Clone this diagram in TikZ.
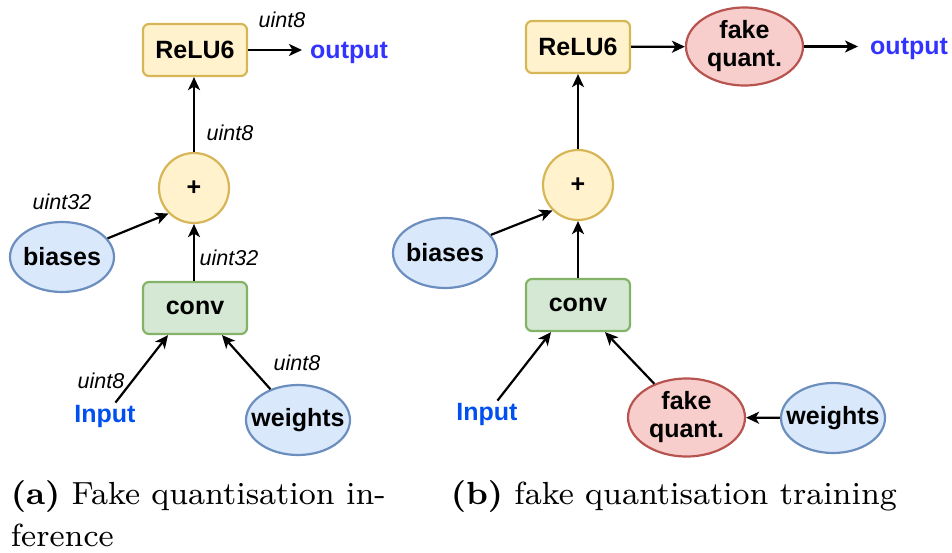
\documentclass[tikz,border=0pt]{standalone}
\usepackage{fontspec}
\setsansfont{Liberation Sans}
\usetikzlibrary{shapes.geometric,arrows.meta}

\definecolor{yelFill}{HTML}{FFF2CC}
\definecolor{yelLine}{HTML}{D6B656}
\definecolor{bluFill}{HTML}{DAE8FC}
\definecolor{bluLine}{HTML}{6C8EBF}
\definecolor{grnFill}{HTML}{D5E8D4}
\definecolor{grnLine}{HTML}{82B366}
\definecolor{redFill}{HTML}{F8CECC}
\definecolor{redLine}{HTML}{B85450}
\definecolor{inColor}{HTML}{0050EF}
\definecolor{outColor}{HTML}{3333FF}

\tikzset{
  x=1pt, y=-1pt,
  every node/.style={font=\sffamily\bfseries\fontsize{25}{28}\selectfont},
  opbox/.style={rectangle, rounded corners=6pt, line width=2.2pt,
    minimum width=104pt, minimum height=52pt, inner sep=0pt},
  relubox/.style={opbox, fill=yelFill, draw=yelLine},
  convbox/.style={opbox, fill=grnFill, draw=grnLine},
  addnode/.style={circle, fill=yelFill, draw=yelLine, line width=2.2pt,
    minimum size=70pt, inner sep=0pt},
  tensor/.style={ellipse, fill=bluFill, draw=bluLine, line width=2.2pt,
    minimum width=104pt, minimum height=70pt, inner sep=0pt},
  fqnode/.style={ellipse, fill=redFill, draw=redLine, line width=2.2pt,
    minimum width=117pt, minimum height=78pt, inner sep=0pt},
  inlabel/.style={text=inColor, inner sep=2pt},
  outlabel/.style={text=outColor, inner sep=0pt, anchor=base west},
  dtype/.style={font=\sffamily\itshape\fontsize{21.5}{24}\selectfont, inner sep=0pt},
  caption/.style={font=\rmfamily\fontsize{8}{10}\selectfont, scale=4.0,
    inner sep=0pt, anchor=base west},
  flow/.style={line width=2.2pt, -{Stealth[length=13pt, width=12pt, inset=3.5pt]}}
}

\begin{document}
\begin{tikzpicture}
\useasboundingbox (0,0) rectangle (952,553);

% ---------- (a) inference ----------
\node[relubox] (reluA) at (195,50) {ReLU6};
\node[outlabel] (outA) at (310,59) {output};
\node[addnode] (addA) at (194,188) {+};
\node[tensor] (biasA) at (62,257) {};
\node at (biasA) {biases};
\node[convbox] (convA) at (195,308) {conv};
\node[inlabel] (inA) at (105,416) {Input};
\node[tensor] (wA) at (298,420) {};
\node at (wA) {weights};

\draw[flow] (reluA.east) -- ([xshift=-8pt]reluA.east -| outA.west);
\draw[flow] (addA.north) -- (addA.north |- reluA.south);
\draw[flow] (convA.north -| addA.south) -- (addA.south);
\draw[flow] (biasA) -- (addA.south west);
\draw[flow] (inA) -- ([xshift=-27pt]convA.south);
\draw[flow] (wA) -- ([xshift=27pt]convA.south);

\node[dtype] (tOut) at (282,20) {uint8};
\node[dtype] (tAdd) at (230,133) {uint8};
\node[dtype] (tBias) at (62,202) {uint32};
\node[dtype] (tConv) at (229,258) {uint32};
\node[dtype] (tIn) at (101,381) {uint8};
\node[dtype] (tW) at (297,363) {uint8};

\node[caption] (capA1) at (10,504) {\textbf{(a)} Fake quantisation in-};
\node[caption] (capA2) at (10,546) {ference};

% ---------- (b) training ----------
\node[relubox] (reluB) at (578,47) {ReLU6};
\node[fqnode] (fqOut) at (744.5,46.5) {};
\node[align=center] at (fqOut) {fake\\quant.};
\node[outlabel] (outB) at (870,55) {output};
\node[addnode] (addB) at (578,185) {+};
\node[tensor] (biasB) at (445,253) {};
\node at (biasB) {biases};
\node[convbox] (convB) at (578,305) {conv};
\node[inlabel] (inB) at (487,414) {Input};
\node[fqnode] (fqW) at (686.5,417.5) {};
\node[align=center] at (fqW) {fake\\quant.};
\node[tensor] (wB) at (833,418) {};
\node at (wB) {weights};

\draw[flow] (reluB) -- (fqOut);
\draw[flow] (fqOut.east) -- ([xshift=-12pt]fqOut.east -| outB.west);
\draw[flow] (addB.north) -- (addB.north |- reluB.south);
\draw[flow] (convB.north -| addB.south) -- (addB.south);
\draw[flow] (biasB) -- (addB.south west);
\draw[flow] (inB) -- ([xshift=-27pt]convB.south);
\draw[flow] (fqW) -- ([xshift=27pt]convB.south);
\draw[flow] (wB) -- (fqW);

\node[caption] (capB) at (450,504) {\textbf{(b)} fake quantisation training};
\end{tikzpicture}
\end{document}
